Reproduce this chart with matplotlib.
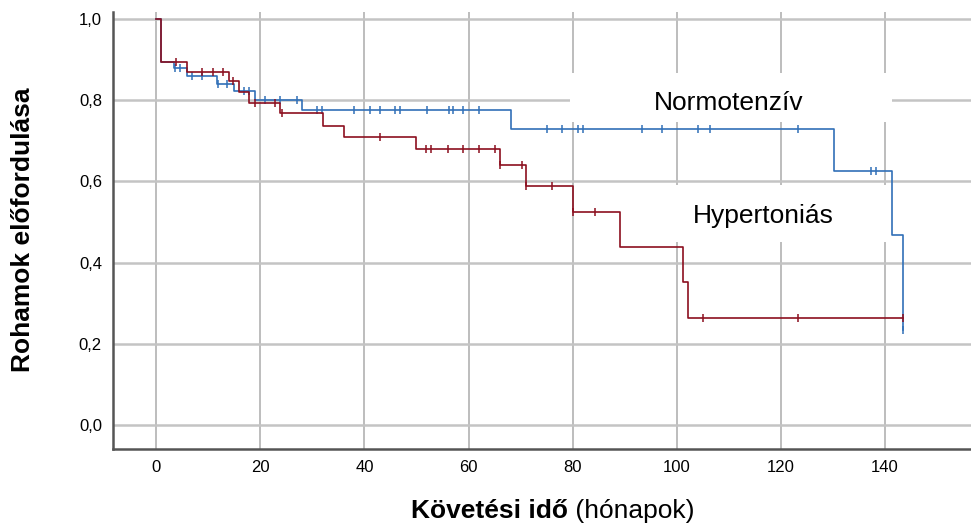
import numpy as np
import matplotlib
matplotlib.use("Agg")
import matplotlib.pyplot as plt
from matplotlib.patches import Rectangle

plt.rcParams["font.family"] = ["Liberation Sans", "DejaVu Sans"]

# Normotenzív csoport: lépcsők (idő, túlélés) és cenzorált idők
norm_times = [0, 1.0, 3.4, 5.9, 11.7, 14.9, 19.0, 28.0, 68.1, 130.2, 141.3, 143.4]
norm_surv = [1.0, 0.893, 0.878, 0.860, 0.841, 0.823, 0.800, 0.775, 0.729, 0.626, 0.468, 0.234]
norm_cens = [3.7, 4.6, 6.9, 8.8, 11.9, 13.6, 16.8, 17.8, 20.9, 23.8, 27.0, 30.9, 31.8,
             37.9, 41.0, 43.0, 45.9, 46.9, 52.0, 56.2, 57.0, 59.0, 62.0, 75.0, 78.0,
             81.1, 81.9, 93.3, 97.1, 104.1, 106.3, 123.2, 137.3, 138.3, 143.4]

# Hypertoniás csoport
hyp_times = [0, 1.0, 5.9, 13.9, 15.9, 17.9, 23.8, 32.0, 36.0, 49.9, 66.1, 71.0, 80.0,
             89.1, 101.1, 102.2]
hyp_surv = [1.0, 0.893, 0.870, 0.847, 0.819, 0.794, 0.768, 0.737, 0.710, 0.680, 0.640,
            0.589, 0.525, 0.439, 0.351, 0.263]
hyp_cens = [3.8, 8.8, 10.9, 12.9, 14.7, 18.9, 22.9, 24.2, 42.9, 51.9, 52.8, 56.0, 59.0,
            62.0, 65.0, 66.1, 70.2, 71.0, 76.1, 80.0, 84.2, 105.1, 123.2, 143.5]

x_ticks = [0, 20, 40, 60, 80, 100, 120, 140]
y_ticks = [0.0, 0.2, 0.4, 0.6, 0.8, 1.0]
y_labels = ["0,0", "0,2", "0,4", "0,6", "0,8", "1,0"]

blue = "#3170b8"
red = "#8c0f1f"

fig = plt.figure(figsize=(9.71, 5.23), dpi=100)
ax = fig.add_axes([0.1164, 0.1415, 0.8836, 0.8355])


def km(ax, times, surv, cens, color, z):
    end = max(times[-1], cens[-1])
    ax.step(times + [end], surv + [surv[-1]], where="post", color=color, lw=1.2, zorder=z)
    idx = np.searchsorted(times, cens, side="right") - 1
    ax.plot(cens, np.array(surv)[idx], ls="none", marker="|", ms=6, mew=1.1,
            color=color, zorder=z)


km(ax, norm_times, norm_surv, norm_cens, blue, 4)
km(ax, hyp_times, hyp_surv, hyp_cens, red, 5)

ax.set_xlim(-8.3, 156.5)
ax.set_ylim(-0.059, 1.017)
ax.set_xticks(x_ticks)
ax.set_yticks(y_ticks)
ax.set_yticklabels(y_labels)
ax.tick_params(length=0, pad=8)
for lab in ax.get_xticklabels() + ax.get_yticklabels():
    lab.set_family(["Liberation Sans Narrow", "Liberation Sans"])
    lab.set_fontsize(12)

ax.grid(axis="y", color="#c4c4c4", lw=1.8, zorder=1)
ax.grid(axis="x", color="#ababab", lw=1.1, zorder=1)
ax.set_axisbelow(True)
for s in ["top", "right"]:
    ax.spines[s].set_visible(False)
for s in ["left", "bottom"]:
    ax.spines[s].set_color("#555555")
    ax.spines[s].set_linewidth(1.8)

# fehér háttér a feliratok mögött
ax.add_patch(Rectangle((79.5, 0.746), 61.8, 0.121, facecolor="white", edgecolor="none", zorder=2))
ax.add_patch(Rectangle((90.1, 0.451), 50.8, 0.140, facecolor="white", edgecolor="none", zorder=2))
ax.text(109.9, 0.776, "Normotenzív", fontsize=19, ha="center", va="baseline", zorder=3)
ax.text(116.6, 0.4975, "Hypertoniás", fontsize=19, ha="center", va="baseline", zorder=3)

fig.text(0.024, 0.56, "Rohamok előfordulása", rotation=90, fontsize=19,
         fontweight="bold", ha="center", va="center")
t1 = fig.text(0.4233, 0.0096, "Követési idő", fontsize=19, fontweight="bold",
              ha="left", va="baseline")
ax.annotate(" (hónapok)", xy=(1, 0), xycoords=t1, fontsize=19, ha="left",
            va="bottom", annotation_clip=False)

fig.savefig("out.png", dpi=100)
